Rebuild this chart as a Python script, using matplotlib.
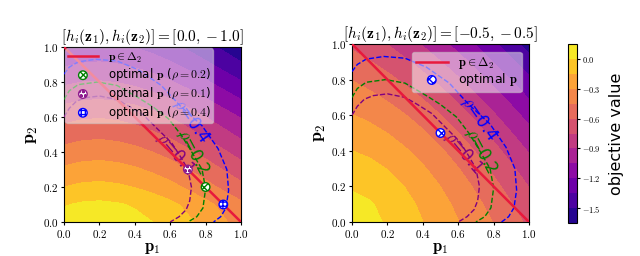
import numpy as np
import matplotlib.pyplot as plt

plt.rcParams['mathtext.fontset'] = 'cm'
plt.rcParams['axes.formatter.use_mathtext'] = True

p_grid = [0.0, 0.1, 0.2, 0.3, 0.4, 0.5, 0.6, 0.7, 0.8, 0.9, 1.0]

# objective value, rows are p2 = 0..1, columns p1 = 0..1  (h = [0, -1])
obj_left = [
    [0.05, 0.08, 0.09, 0.075, 0.045, 0.0, -0.055, -0.125, -0.2, -0.28, -0.36],
    [-0.01, 0.02, 0.03, 0.015, -0.015, -0.06, -0.115, -0.185, -0.26, -0.34, -0.42],
    [-0.15, -0.12, -0.11, -0.125, -0.155, -0.2, -0.255, -0.325, -0.4, -0.48, -0.56],
    [-0.275, -0.245, -0.235, -0.25, -0.28, -0.325, -0.38, -0.45, -0.525, -0.605, -0.685],
    [-0.4, -0.37, -0.36, -0.375, -0.405, -0.45, -0.505, -0.575, -0.65, -0.73, -0.81],
    [-0.525, -0.495, -0.485, -0.5, -0.53, -0.575, -0.63, -0.7, -0.775, -0.855, -0.935],
    [-0.65, -0.62, -0.61, -0.625, -0.655, -0.7, -0.755, -0.825, -0.9, -0.98, -1.06],
    [-0.79, -0.76, -0.75, -0.765, -0.795, -0.84, -0.895, -0.965, -1.04, -1.12, -1.2],
    [-0.93, -0.9, -0.89, -0.905, -0.935, -0.98, -1.035, -1.105, -1.18, -1.26, -1.34],
    [-1.07, -1.04, -1.03, -1.045, -1.075, -1.12, -1.175, -1.245, -1.32, -1.4, -1.48],
    [-1.2, -1.17, -1.16, -1.175, -1.205, -1.25, -1.305, -1.375, -1.45, -1.53, -1.61],
]

# same for h = [-0.5, -0.5]
obj_right = [
    [0.10, 0.043, -0.017, -0.081, -0.149, -0.22, -0.295, -0.373, -0.455, -0.541, -0.63],
    [0.043, 0.013, -0.043, -0.108, -0.179, -0.254, -0.333, -0.416, -0.503, -0.593, -0.688],
    [-0.017, -0.043, -0.091, -0.154, -0.224, -0.301, -0.384, -0.47, -0.561, -0.656, -0.754],
    [-0.081, -0.108, -0.154, -0.214, -0.284, -0.361, -0.445, -0.535, -0.629, -0.727, -0.829],
    [-0.149, -0.179, -0.224, -0.284, -0.354, -0.432, -0.517, -0.609, -0.706, -0.807, -0.913],
    [-0.22, -0.254, -0.301, -0.361, -0.432, -0.511, -0.598, -0.692, -0.791, -0.896, -1.005],
    [-0.295, -0.333, -0.384, -0.445, -0.517, -0.598, -0.687, -0.783, -0.884, -0.992, -1.104],
    [-0.373, -0.416, -0.47, -0.535, -0.609, -0.692, -0.783, -0.881, -0.985, -1.095, -1.211],
    [-0.455, -0.503, -0.561, -0.629, -0.706, -0.791, -0.884, -0.985, -1.092, -1.205, -1.324],
    [-0.541, -0.593, -0.656, -0.727, -0.807, -0.896, -0.992, -1.095, -1.205, -1.321, -1.443],
    [-0.63, -0.688, -0.754, -0.829, -0.913, -1.005, -1.104, -1.211, -1.324, -1.443, -1.568],
]

titles = [r'$[h_i(\mathbf{z}_1), h_i(\mathbf{z}_2)] = [0.0, -1.0]$',
          r'$[h_i(\mathbf{z}_1), h_i(\mathbf{z}_2)] = [-0.5, -0.5]$']

# simplex line
simplex_p1 = [0.0, 1.0]
simplex_p2 = [1.0, 0.0]

# rho level curves (same in both panels)
rho01_p1 = [0.0, 0.03, 0.07, 0.12, 0.2, 0.3, 0.37, 0.45, 0.53, 0.61, 0.66, 0.70, 0.72, 0.71, 0.69, 0.65, 0.60]
rho01_p2 = [0.60, 0.65, 0.69, 0.71, 0.72, 0.70, 0.66, 0.61, 0.53, 0.45, 0.37, 0.30, 0.2, 0.12, 0.07, 0.03, 0.0]
rho02_p1 = [0.0, 0.03, 0.08, 0.19, 0.3, 0.42, 0.5, 0.59, 0.66, 0.71, 0.78, 0.80, 0.785, 0.75, 0.70]
rho02_p2 = [0.70, 0.75, 0.785, 0.80, 0.78, 0.71, 0.66, 0.59, 0.5, 0.42, 0.3, 0.19, 0.08, 0.03, 0.0]
rho04_p1 = [0.0, 0.03, 0.08, 0.18, 0.3, 0.42, 0.55, 0.66, 0.78, 0.87, 0.92, 0.93, 0.915, 0.885, 0.845]
rho04_p2 = [0.845, 0.885, 0.915, 0.93, 0.92, 0.87, 0.78, 0.66, 0.55, 0.42, 0.3, 0.18, 0.08, 0.03, 0.0]

# optimal points
opt_left_p1 = [0.8, 0.7, 0.9]
opt_left_p2 = [0.2, 0.3, 0.1]
opt_left_rho = ['0.2', '0.1', '0.4']
opt_right_p1 = [0.5]
opt_right_p2 = [0.5]

levels = np.linspace(-1.65, 0.15, 13)
cbar_ticks = [-1.5, -1.2, -0.9, -0.6, -0.3, 0.0]

curve_colors = {'0.1': 'purple', '0.2': 'green', '0.4': 'blue'}
marker_colors = {'0.1': '#8e1b8e', '0.2': 'green', '0.4': 'blue'}
hatches = {'0.1': 'oooo', '0.2': 'xxxx', '0.4': '++++'}

fig = plt.figure(figsize=(6.4, 2.56), dpi=100)
ax1 = fig.add_axes([64 / 640, 34 / 256, 177 / 640, 175 / 256])
ax2 = fig.add_axes([352 / 640, 34 / 256, 177 / 640, 178 / 256])
cax = fig.add_axes([568 / 640, 33 / 256, 9 / 640, 179 / 256])

curves = [('0.1', rho01_p1, rho01_p2, (0.63, 0.39), -50),
          ('0.2', rho02_p1, rho02_p2, (0.73, 0.40), -62),
          ('0.4', rho04_p1, rho04_p2, (0.72, 0.58), -55)]

for ax, z, title in [(ax1, obj_left, titles[0]), (ax2, obj_right, titles[1])]:
    cs = ax.contourf(p_grid, p_grid, np.array(z), levels=levels, cmap='plasma')
    for rho, cx, cy, lpos, rot in curves:
        ax.plot(cx, cy, '--', color=curve_colors[rho], lw=1.0, zorder=3)
        ax.text(lpos[0], lpos[1], r'$\rho$=' + rho, color=curve_colors[rho],
                fontsize=12, rotation=rot, ha='center', va='center', zorder=4)
    ax.plot(simplex_p1, simplex_p2, color='#e8193c', lw=1.8, zorder=5,
            label=r'$\mathbf{p} \in \Delta_2$')
    ax.set_xlim(0, 1)
    ax.set_ylim(0, 1)
    ax.set_xticks([0, 0.2, 0.4, 0.6, 0.8, 1.0])
    ax.set_yticks([0, 0.2, 0.4, 0.6, 0.8, 1.0])
    ax.tick_params(labelsize=8, length=2.5, pad=1.5)
    ax.xaxis.set_major_formatter(plt.FormatStrFormatter(r'$%.1f$'))
    ax.yaxis.set_major_formatter(plt.FormatStrFormatter(r'$%.1f$'))
    ax.set_xlabel(r'$\mathbf{p}_1$', fontsize=12, labelpad=-1)
    ax.set_ylabel(r'$\mathbf{p}_2$', fontsize=13, labelpad=2)
    ax.set_title(title, fontsize=11, pad=2.5)

for x, y, rho in zip(opt_left_p1, opt_left_p2, opt_left_rho):
    ax1.scatter([x], [y], s=38, marker='o', facecolors='white',
                edgecolors=marker_colors[rho], hatch=hatches[rho], linewidths=1.0,
                zorder=6, label=r'optimal $\mathbf{p}$ ($\rho=' + rho + '$)')
ax2.scatter(opt_right_p1, opt_right_p2, s=38, marker='o', facecolors='white',
            edgecolors='blue', hatch='xxxx', linewidths=1.0, zorder=6,
            label=r'optimal $\mathbf{p}$')

ax1.legend(loc='upper left', fontsize=8.5, framealpha=0.5, borderpad=0.2,
           labelspacing=0.15, handlelength=2.6, borderaxespad=0.1)
ax2.legend(loc='upper right', fontsize=9, framealpha=0.5, borderpad=0.3,
           labelspacing=0.0, handlelength=2.6, borderaxespad=0.6)

cb = fig.colorbar(cs, cax=cax, ticks=cbar_ticks)
cb.ax.tick_params(labelsize=6, length=2, pad=1.5)
cb.ax.yaxis.set_major_formatter(plt.FormatStrFormatter(r'$%.1f$'))
cb.set_label('objective value', fontsize=11.5, labelpad=6)

fig.savefig('out.png', dpi=100)
